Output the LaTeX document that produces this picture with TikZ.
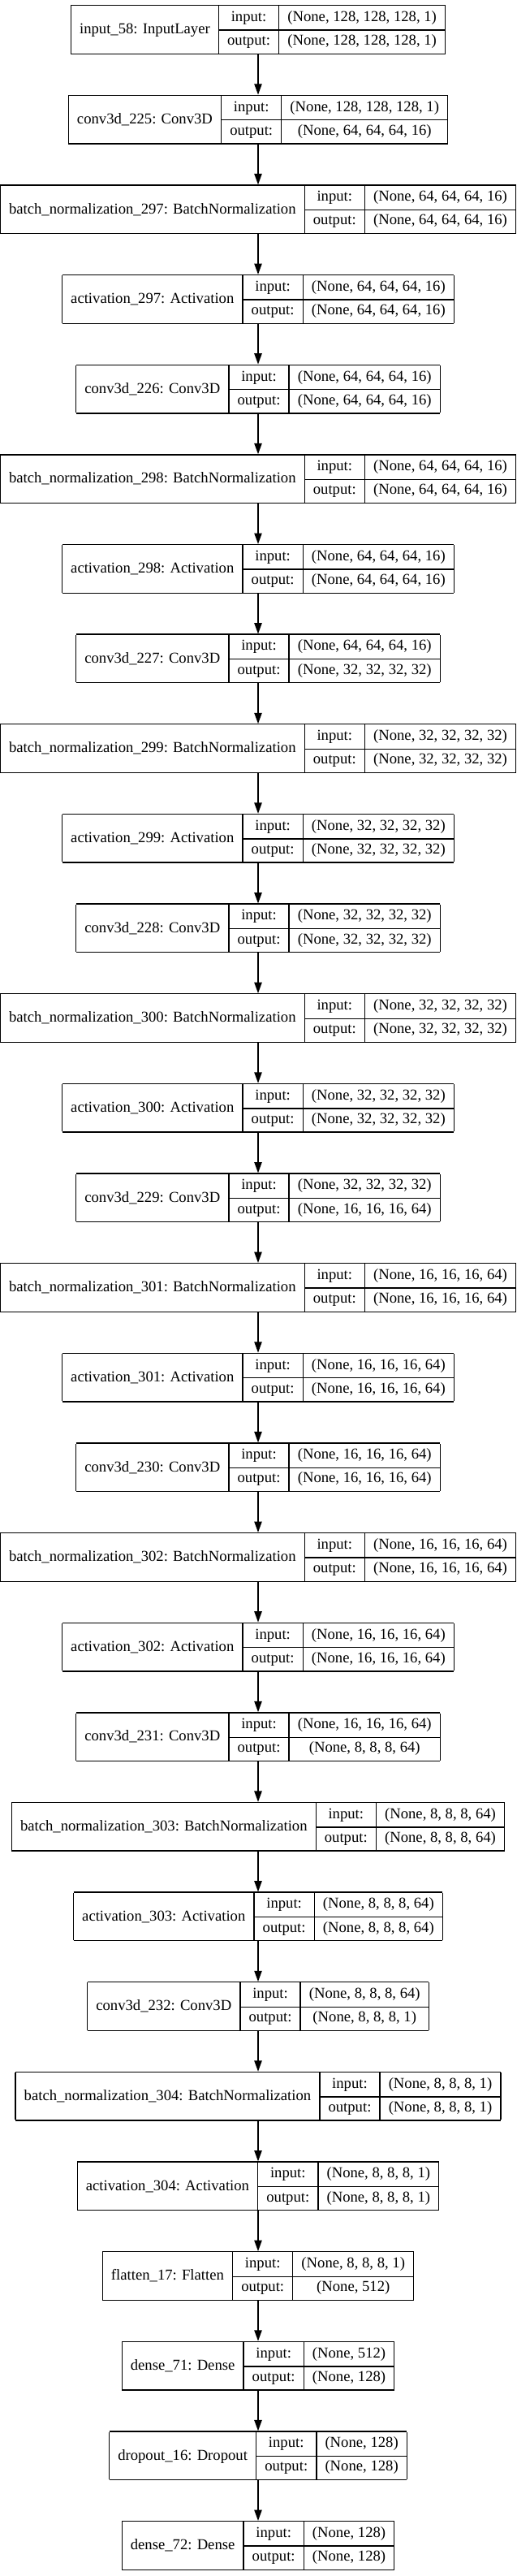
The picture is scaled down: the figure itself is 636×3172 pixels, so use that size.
\documentclass[tikz,border=0pt]{standalone}
\usepackage{fontspec}
\setmainfont{Liberation Serif}
\usetikzlibrary{arrows.meta}

\tikzset{every picture/.style={line width=1pt}}
\setlength\arrayrulewidth{1pt}
\setlength\tabcolsep{8pt}
\newcommand\recfont{\fontsize{14pt}{16pt}\selectfont}
\newcommand\recstrut{\rule[-7.5pt]{0pt}{21.875pt}}
% #1 layer, #2 input shape, #3 output shape
\newcommand\kerasrec[3]{%
  \begin{tabular}{|c|c|c|}\hline
    \raisebox{-11.44pt}[0pt][0pt]{#1} & input:\recstrut & #2 \\ \cline{2-3}
    & output:\recstrut & #3 \\ \hline
  \end{tabular}}
\tikzset{
  recbox/.style={inner sep=0pt, outer sep=0pt, anchor=north, font=\recfont},
  recarrow/.style={-{Triangle[length=10pt,width=7pt]}}
}

\begin{document}
\begin{tikzpicture}[x=0.75pt,y=0.75pt,yscale=-1,xscale=1]
	\useasboundingbox (0,0) rectangle (636,3172);

	% Layers
	\node [recbox] (in58) at (318,6) {\kerasrec{input\_58: InputLayer}{(None, 128, 128, 128, 1)}{(None, 128, 128, 128, 1)}};
	\node [recbox] (cv225) at (318,116.64) {\kerasrec{conv3d\_225: Conv3D}{(None, 128, 128, 128, 1)}{(None, 64, 64, 64, 16)}};
	\node [recbox] (bn297) at (318,227.28) {\kerasrec{batch\_normalization\_297: BatchNormalization}{(None, 64, 64, 64, 16)}{(None, 64, 64, 64, 16)}};
	\node [recbox] (ac297) at (318,337.92) {\kerasrec{activation\_297: Activation}{(None, 64, 64, 64, 16)}{(None, 64, 64, 64, 16)}};
	\node [recbox] (cv226) at (318,448.56) {\kerasrec{conv3d\_226: Conv3D}{(None, 64, 64, 64, 16)}{(None, 64, 64, 64, 16)}};
	\node [recbox] (bn298) at (318,559.2) {\kerasrec{batch\_normalization\_298: BatchNormalization}{(None, 64, 64, 64, 16)}{(None, 64, 64, 64, 16)}};
	\node [recbox] (ac298) at (318,669.84) {\kerasrec{activation\_298: Activation}{(None, 64, 64, 64, 16)}{(None, 64, 64, 64, 16)}};
	\node [recbox] (cv227) at (318,780.48) {\kerasrec{conv3d\_227: Conv3D}{(None, 64, 64, 64, 16)}{(None, 32, 32, 32, 32)}};
	\node [recbox] (bn299) at (318,891.12) {\kerasrec{batch\_normalization\_299: BatchNormalization}{(None, 32, 32, 32, 32)}{(None, 32, 32, 32, 32)}};
	\node [recbox] (ac299) at (318,1001.76) {\kerasrec{activation\_299: Activation}{(None, 32, 32, 32, 32)}{(None, 32, 32, 32, 32)}};
	\node [recbox] (cv228) at (318,1112.4) {\kerasrec{conv3d\_228: Conv3D}{(None, 32, 32, 32, 32)}{(None, 32, 32, 32, 32)}};
	\node [recbox] (bn300) at (318,1223.04) {\kerasrec{batch\_normalization\_300: BatchNormalization}{(None, 32, 32, 32, 32)}{(None, 32, 32, 32, 32)}};
	\node [recbox] (ac300) at (318,1333.68) {\kerasrec{activation\_300: Activation}{(None, 32, 32, 32, 32)}{(None, 32, 32, 32, 32)}};
	\node [recbox] (cv229) at (318,1444.32) {\kerasrec{conv3d\_229: Conv3D}{(None, 32, 32, 32, 32)}{(None, 16, 16, 16, 64)}};
	\node [recbox] (bn301) at (318,1554.96) {\kerasrec{batch\_normalization\_301: BatchNormalization}{(None, 16, 16, 16, 64)}{(None, 16, 16, 16, 64)}};
	\node [recbox] (ac301) at (318,1665.6) {\kerasrec{activation\_301: Activation}{(None, 16, 16, 16, 64)}{(None, 16, 16, 16, 64)}};
	\node [recbox] (cv230) at (318,1776.24) {\kerasrec{conv3d\_230: Conv3D}{(None, 16, 16, 16, 64)}{(None, 16, 16, 16, 64)}};
	\node [recbox] (bn302) at (318,1886.88) {\kerasrec{batch\_normalization\_302: BatchNormalization}{(None, 16, 16, 16, 64)}{(None, 16, 16, 16, 64)}};
	\node [recbox] (ac302) at (318,1997.52) {\kerasrec{activation\_302: Activation}{(None, 16, 16, 16, 64)}{(None, 16, 16, 16, 64)}};
	\node [recbox] (cv231) at (318,2108.16) {\kerasrec{conv3d\_231: Conv3D}{(None, 16, 16, 16, 64)}{(None, 8, 8, 8, 64)}};
	\node [recbox] (bn303) at (318,2218.8) {\kerasrec{batch\_normalization\_303: BatchNormalization}{(None, 8, 8, 8, 64)}{(None, 8, 8, 8, 64)}};
	\node [recbox] (ac303) at (318,2329.44) {\kerasrec{activation\_303: Activation}{(None, 8, 8, 8, 64)}{(None, 8, 8, 8, 64)}};
	\node [recbox] (cv232) at (318,2440.08) {\kerasrec{conv3d\_232: Conv3D}{(None, 8, 8, 8, 64)}{(None, 8, 8, 8, 1)}};
	\node [recbox] (bn304) at (318,2550.72) {\kerasrec{batch\_normalization\_304: BatchNormalization}{(None, 8, 8, 8, 1)}{(None, 8, 8, 8, 1)}};
	\node [recbox] (ac304) at (318,2661.36) {\kerasrec{activation\_304: Activation}{(None, 8, 8, 8, 1)}{(None, 8, 8, 8, 1)}};
	\node [recbox] (fl17) at (318,2772) {\kerasrec{flatten\_17: Flatten}{(None, 8, 8, 8, 1)}{(None, 512)}};
	\node [recbox] (de71) at (318,2882.64) {\kerasrec{dense\_71: Dense}{(None, 512)}{(None, 128)}};
	\node [recbox] (do16) at (318,2993.28) {\kerasrec{dropout\_16: Dropout}{(None, 128)}{(None, 128)}};
	\node [recbox] (de72) at (318,3103.92) {\kerasrec{dense\_72: Dense}{(None, 128)}{(None, 128)}};

	% Arrows
	\draw [recarrow] (in58.south) -- (cv225.north) ;
	\draw [recarrow] (cv225.south) -- (bn297.north) ;
	\draw [recarrow] (bn297.south) -- (ac297.north) ;
	\draw [recarrow] (ac297.south) -- (cv226.north) ;
	\draw [recarrow] (cv226.south) -- (bn298.north) ;
	\draw [recarrow] (bn298.south) -- (ac298.north) ;
	\draw [recarrow] (ac298.south) -- (cv227.north) ;
	\draw [recarrow] (cv227.south) -- (bn299.north) ;
	\draw [recarrow] (bn299.south) -- (ac299.north) ;
	\draw [recarrow] (ac299.south) -- (cv228.north) ;
	\draw [recarrow] (cv228.south) -- (bn300.north) ;
	\draw [recarrow] (bn300.south) -- (ac300.north) ;
	\draw [recarrow] (ac300.south) -- (cv229.north) ;
	\draw [recarrow] (cv229.south) -- (bn301.north) ;
	\draw [recarrow] (bn301.south) -- (ac301.north) ;
	\draw [recarrow] (ac301.south) -- (cv230.north) ;
	\draw [recarrow] (cv230.south) -- (bn302.north) ;
	\draw [recarrow] (bn302.south) -- (ac302.north) ;
	\draw [recarrow] (ac302.south) -- (cv231.north) ;
	\draw [recarrow] (cv231.south) -- (bn303.north) ;
	\draw [recarrow] (bn303.south) -- (ac303.north) ;
	\draw [recarrow] (ac303.south) -- (cv232.north) ;
	\draw [recarrow] (cv232.south) -- (bn304.north) ;
	\draw [recarrow] (bn304.south) -- (ac304.north) ;
	\draw [recarrow] (ac304.south) -- (fl17.north) ;
	\draw [recarrow] (fl17.south) -- (de71.north) ;
	\draw [recarrow] (de71.south) -- (do16.north) ;
	\draw [recarrow] (do16.south) -- (de72.north) ;

\end{tikzpicture}
\end{document}
